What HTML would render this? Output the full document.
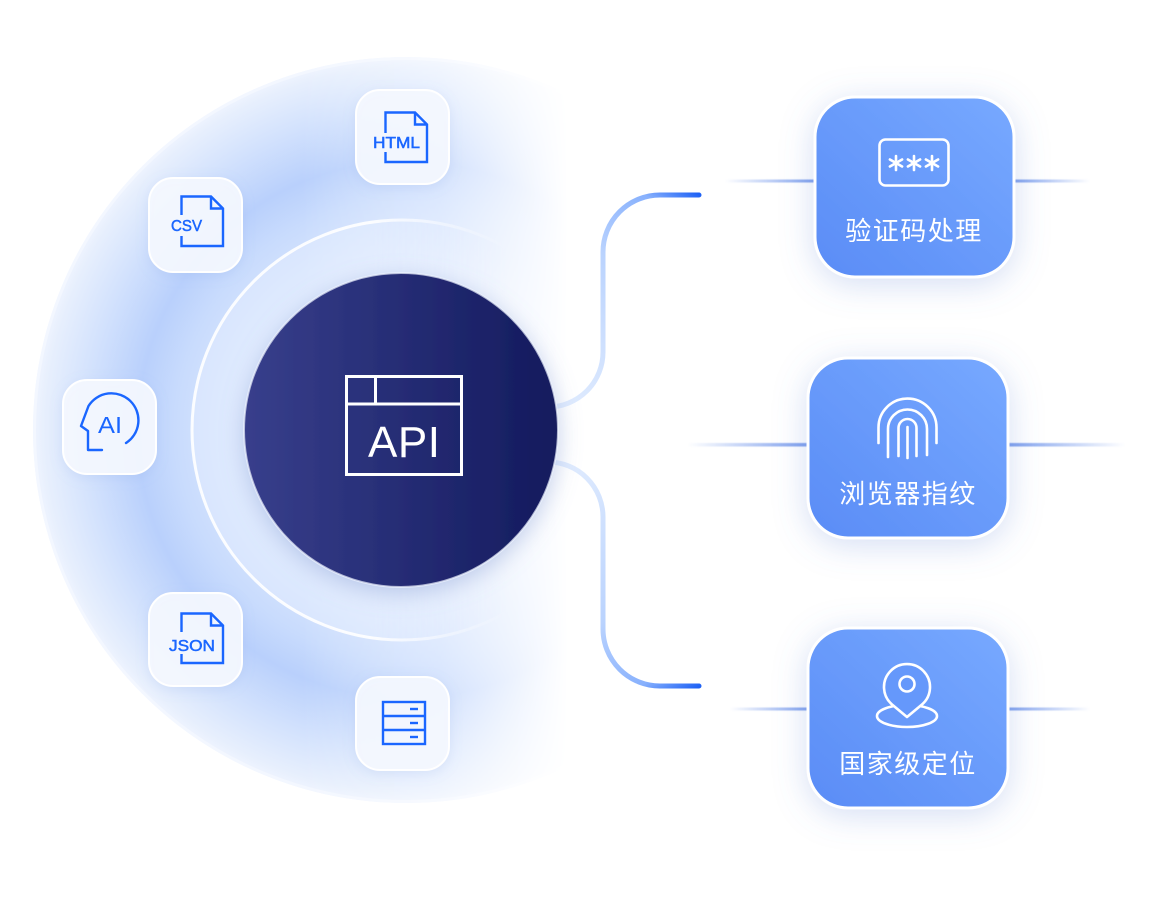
<!DOCTYPE html>
<html>
<head>
<meta charset="utf-8">
<style>
  html,body{margin:0;padding:0;background:#ffffff;}
  body{width:1160px;height:898px;overflow:hidden;}
  svg{display:block;}
  .lbl{font-family:"Liberation Sans","Noto Sans CJK SC",sans-serif;}
  .cn{font-family:"Liberation Sans","Noto Sans CJK SC",sans-serif;font-size:26px;fill:#ffffff;letter-spacing:1.5px;}
</style>
</head>
<body>
<svg width="1160" height="898" viewBox="0 0 1160 898" xmlns="http://www.w3.org/2000/svg">
  <defs>
    <radialGradient id="bg" cx="406" cy="430" r="373" gradientUnits="userSpaceOnUse">
      <stop offset="0" stop-color="#e9f1ff"/>
      <stop offset="0.45" stop-color="#dbe7fd"/>
      <stop offset="0.62" stop-color="#c8dbfd"/>
      <stop offset="0.72" stop-color="#b9d0fc"/>
      <stop offset="0.86" stop-color="#d3e2fd"/>
      <stop offset="0.97" stop-color="#e7effd"/>
      <stop offset="1" stop-color="#eff4fe"/>
    </radialGradient>
    <linearGradient id="fade" x1="0" y1="0" x2="1160" y2="0" gradientUnits="userSpaceOnUse">
      <stop offset="0" stop-color="#fff"/>
      <stop offset="0.26" stop-color="#fff"/>
      <stop offset="0.38" stop-color="#a0a0a0"/>
      <stop offset="0.49" stop-color="#000"/>
      <stop offset="1" stop-color="#000"/>
    </linearGradient>
    <linearGradient id="fade2" x1="0" y1="0" x2="1160" y2="0" gradientUnits="userSpaceOnUse">
      <stop offset="0" stop-color="#fff"/>
      <stop offset="0.32" stop-color="#fff"/>
      <stop offset="0.44" stop-color="#000"/>
      <stop offset="1" stop-color="#000"/>
    </linearGradient>
    <mask id="m" maskUnits="userSpaceOnUse" x="0" y="0" width="1160" height="898">
      <rect x="0" y="0" width="1160" height="898" fill="url(#fade)"/>
    </mask>
    <mask id="m2" maskUnits="userSpaceOnUse" x="0" y="0" width="1160" height="898">
      <rect x="0" y="0" width="1160" height="898" fill="url(#fade2)"/>
    </mask>
    <linearGradient id="dark" x1="0" y1="0" x2="1" y2="0">
      <stop offset="0" stop-color="#383f8c"/>
      <stop offset="1" stop-color="#131a5d"/>
    </linearGradient>
    <linearGradient id="card" x1="1" y1="0" x2="0" y2="1">
      <stop offset="0" stop-color="#77a9ff"/>
      <stop offset="1" stop-color="#5a8cf6"/>
    </linearGradient>
    <linearGradient id="ct" x1="560" y1="407" x2="700" y2="195" gradientUnits="userSpaceOnUse">
      <stop offset="0" stop-color="#e1ecfe"/>
      <stop offset="0.6" stop-color="#bad3fe"/>
      <stop offset="0.88" stop-color="#88b1fd"/>
      <stop offset="1" stop-color="#1f62f5"/>
    </linearGradient>
    <linearGradient id="cb" x1="560" y1="463" x2="700" y2="686" gradientUnits="userSpaceOnUse">
      <stop offset="0" stop-color="#e1ecfe"/>
      <stop offset="0.6" stop-color="#bad3fe"/>
      <stop offset="0.88" stop-color="#88b1fd"/>
      <stop offset="1" stop-color="#1f62f5"/>
    </linearGradient>
    <linearGradient id="lineL" x1="0" y1="0" x2="1" y2="0">
      <stop offset="0" stop-color="#7fa0ec" stop-opacity="0"/>
      <stop offset="1" stop-color="#7b9dec" stop-opacity="1"/>
    </linearGradient>
    <linearGradient id="lineR" x1="0" y1="0" x2="1" y2="0">
      <stop offset="0" stop-color="#7b9dec" stop-opacity="1"/>
      <stop offset="1" stop-color="#7fa0ec" stop-opacity="0"/>
    </linearGradient>
    <filter id="shDark" x="-30%" y="-30%" width="160%" height="160%">
      <feDropShadow dx="0" dy="6" stdDeviation="12" flood-color="#7f96cf" flood-opacity="0.45"/>
    </filter>
    <filter id="shCard" x="-40%" y="-40%" width="180%" height="180%">
      <feDropShadow dx="0" dy="6" stdDeviation="16" flood-color="#6a8bd6" flood-opacity="0.28"/>
    </filter>
    <filter id="shBox" x="-30%" y="-30%" width="160%" height="160%">
      <feDropShadow dx="0" dy="3" stdDeviation="6" flood-color="#7f9fe0" flood-opacity="0.18"/>
    </filter>
    <filter id="blurLine" x="-10%" y="-300%" width="120%" height="700%">
      <feGaussianBlur stdDeviation="0.6"/>
    </filter>
  </defs>

  <!-- big background circle (faded to right) -->
  <g mask="url(#m)">
    <circle cx="406" cy="430" r="373" fill="url(#bg)"/>
    <circle cx="406" cy="430" r="371.5" fill="none" stroke="#f3f7ff" stroke-width="3"/>
  </g>
  <!-- inner ring -->
  <g mask="url(#m2)">
    <circle cx="402" cy="430" r="210" fill="#e6efff" fill-opacity="0.45" stroke="#ffffff" stroke-opacity="0.9" stroke-width="3"/>
  </g>

  <!-- connectors -->
  <path d="M548 407 A55 55 0 0 0 603 352 V252 A57 57 0 0 1 660 195 H699" fill="none" stroke="url(#ct)" stroke-width="5" stroke-linecap="round"/>
  <path d="M548 462 A55 55 0 0 1 603 517 V629 A57 57 0 0 0 660 686 H699" fill="none" stroke="url(#cb)" stroke-width="5" stroke-linecap="round"/>

  <!-- dark API circle -->
  <circle cx="401" cy="430" r="157" fill="url(#dark)" filter="url(#shDark)"/>
  <circle cx="401" cy="430" r="157" fill="none" stroke="#eef3ff" stroke-opacity="0.7" stroke-width="2"/>
  <g fill="none" stroke="#ffffff" stroke-width="3">
    <rect x="346.5" y="376.5" width="115" height="98"/>
    <line x1="346.5" y1="404" x2="461.5" y2="404"/>
    <line x1="375.5" y1="376.5" x2="375.5" y2="404"/>
  </g>
  <text class="lbl" x="368" y="457" font-size="44" fill="#ffffff" textLength="72" lengthAdjust="spacing">API</text>

  <!-- left icon boxes -->
  <g filter="url(#shBox)">
    <rect x="356" y="90" width="93" height="94" rx="24" fill="#f5f8ff" fill-opacity="0.92" stroke="#ffffff" stroke-width="2"/>
    <rect x="149" y="178" width="93" height="94" rx="24" fill="#f5f8ff" fill-opacity="0.92" stroke="#ffffff" stroke-width="2"/>
    <rect x="63" y="380" width="93" height="94" rx="24" fill="#f5f8ff" fill-opacity="0.92" stroke="#ffffff" stroke-width="2"/>
    <rect x="149" y="593" width="93" height="93" rx="24" fill="#f5f8ff" fill-opacity="0.92" stroke="#ffffff" stroke-width="2"/>
    <rect x="356" y="677" width="93" height="93" rx="24" fill="#f5f8ff" fill-opacity="0.92" stroke="#ffffff" stroke-width="2"/>
  </g>

  <g fill="none" stroke="#1a66ff" stroke-width="2.4" stroke-linejoin="miter">
    <!-- HTML doc -->
    <path d="M385.5 133 V112.5 H415 L427 124.5 V162 H385.5 V152"/>
    <path d="M415 112.5 V124.5 H427"/>
    <!-- CSV doc -->
    <path d="M181.5 215 V196.5 H211 L223 208.5 V246 H181.5 V236"/>
    <path d="M211 196.5 V208.5 H223"/>
    <!-- JSON doc -->
    <path d="M181.5 632 V613.5 H211 L223 625.5 V663 H181.5 V654"/>
    <path d="M211 613.5 V625.5 H223"/>
    <!-- AI head -->
    <path d="M126 443 A27 27 0 1 0 88.5 406 L81 426 L88 431 V450 H102" stroke-linecap="round" stroke-linejoin="round"/>
    <!-- DB -->
    <rect x="383" y="702" width="42" height="42"/>
    <line x1="383" y1="716" x2="425" y2="716"/>
    <line x1="383" y1="730" x2="425" y2="730"/>
  </g>
  <g stroke="#1a66ff" stroke-width="2.4">
    <line x1="410" y1="709" x2="418" y2="709"/>
    <line x1="410" y1="723" x2="418" y2="723"/>
    <line x1="410" y1="737" x2="418" y2="737"/>
  </g>
  <g class="lbl" fill="#1a66ff" stroke="#1a66ff" stroke-width="0.5" font-size="16">
    <text x="373" y="148" textLength="47" lengthAdjust="spacingAndGlyphs">HTML</text>
    <text x="171" y="231" textLength="31" lengthAdjust="spacingAndGlyphs">CSV</text>
    <text x="169" y="651" textLength="46" lengthAdjust="spacingAndGlyphs">JSON</text>
  </g>
  <text class="lbl" x="98" y="433" font-size="23" fill="#1a66ff" textLength="24" lengthAdjust="spacingAndGlyphs">AI</text>

  <!-- horizontal card lines -->
  <g filter="url(#blurLine)">
    <rect x="725" y="179.5" width="90" height="3" fill="url(#lineL)"/>
    <rect x="1013" y="179.5" width="77" height="3" fill="url(#lineR)"/>
    <rect x="688" y="443" width="121" height="3.5" fill="url(#lineL)"/>
    <rect x="1007" y="443" width="118" height="3.5" fill="url(#lineR)"/>
    <rect x="730" y="707.5" width="79" height="3" fill="url(#lineL)"/>
    <rect x="1007" y="707.5" width="83" height="3" fill="url(#lineR)"/>
  </g>

  <!-- cards -->
  <g filter="url(#shCard)">
    <rect x="815" y="97" width="199" height="180" rx="40" fill="url(#card)" stroke="#ffffff" stroke-width="3"/>
    <rect x="808" y="358" width="200" height="180" rx="40" fill="url(#card)" stroke="#ffffff" stroke-width="3"/>
    <rect x="808" y="628" width="200" height="180" rx="40" fill="url(#card)" stroke="#ffffff" stroke-width="3"/>
  </g>

  <!-- card 1 icon -->
  <rect x="879.5" y="139.5" width="69" height="46" rx="6" fill="none" stroke="#ffffff" stroke-width="2.6"/>
  <g stroke="#ffffff" stroke-width="2.6" stroke-linecap="round">
    <g transform="translate(896 163)">
      <line x1="0" y1="-7" x2="0" y2="7"/>
      <line x1="-6.1" y1="-3.5" x2="6.1" y2="3.5"/>
      <line x1="-6.1" y1="3.5" x2="6.1" y2="-3.5"/>
    </g>
    <g transform="translate(914 163)">
      <line x1="0" y1="-7" x2="0" y2="7"/>
      <line x1="-6.1" y1="-3.5" x2="6.1" y2="3.5"/>
      <line x1="-6.1" y1="3.5" x2="6.1" y2="-3.5"/>
    </g>
    <g transform="translate(932 163)">
      <line x1="0" y1="-7" x2="0" y2="7"/>
      <line x1="-6.1" y1="-3.5" x2="6.1" y2="3.5"/>
      <line x1="-6.1" y1="3.5" x2="6.1" y2="-3.5"/>
    </g>
  </g>
  <text class="cn" x="914" y="240" text-anchor="middle">验证码处理</text>

  <!-- card 2 icon: fingerprint -->
  <g fill="none" stroke="#ffffff" stroke-width="2.6" stroke-linecap="round">
    <path d="M878.5 443 V427.5 A29 29 0 0 1 936.5 427.5 V443"/>
    <path d="M888 457 V429 A19.5 19.5 0 0 1 927 429 V455"/>
    <path d="M898.5 456 V428 A9 9 0 0 1 916.5 428 V456"/>
    <path d="M907.5 427 V458"/>
  </g>
  <text class="cn" x="908" y="503" text-anchor="middle">浏览器指纹</text>

  <!-- card 3 icon: location -->
  <g fill="none" stroke="#ffffff" stroke-width="2.6">
    <ellipse cx="907" cy="716" rx="30" ry="11"/>
    <path d="M907 717 L892 704.5 A23 23 0 1 1 922 704.5 Z" fill="#6598fb" stroke-linejoin="round"/>
    <circle cx="907" cy="684" r="7.5"/>
  </g>
  <text class="cn" x="908" y="773" text-anchor="middle">国家级定位</text>
</svg>
</body>
</html>
